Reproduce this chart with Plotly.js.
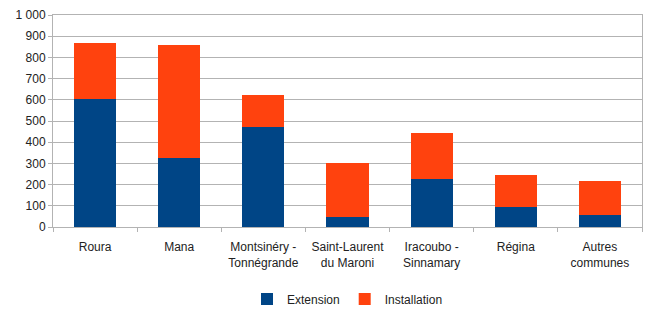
<!DOCTYPE html>
<html><head><meta charset="utf-8">
<script src="https://cdn.plot.ly/plotly-3.0.1.min.js"></script>
<style>html,body{margin:0;padding:0;background:#fff}</style>
</head><body>
<div id="chart" style="width:646px;height:310px"></div>
<script>
var categories = ["Roura", "Mana", "Montsinéry -<br>Tonnégrande", "Saint-Laurent<br>du Maroni", "Iracoubo -<br>Sinnamary", "Régina", "Autres<br>communes"];
var extension = [604, 325, 472, 47, 226, 94, 57];
var installation = [264, 533, 151, 255, 217, 151, 160];

var data = [
  {type: "bar", name: "Extension", x: categories, y: extension, marker: {color: "#004586"}},
  {type: "bar", name: "Installation", x: categories, y: installation, marker: {color: "#ff420e"}}
];
var layout = {
  width: 646, height: 310,
  margin: {l: 53, r: 4, t: 15, b: 83, autoexpand: false},
  barmode: "stack", bargap: 0.5,
  separators: ", ",
  font: {family: "Liberation Sans, Arial, sans-serif", size: 12, color: "#222"},
  paper_bgcolor: "#fff", plot_bgcolor: "#fff",
  showlegend: true,
  legend: {orientation: "h", traceorder: "normal", x: 0.5, xanchor: "center", y: -0.34, yanchor: "middle",
           font: {size: 12}, itemwidth: 30, tracegroupgap: 0},
  xaxis: {type: "category", tickson: "boundaries", ticks: "outside", ticklen: 4, tickcolor: "#b3b3b3",
          showline: true, linecolor: "#b3b3b3", mirror: true, showgrid: false, tickfont: {size: 12},
          automargin: false, ticklabelstandoff: 9},
  yaxis: {range: [0, 1000], dtick: 100, tickformat: ",d", ticks: "outside", ticklen: 4, tickcolor: "#b3b3b3",
          showline: true, linecolor: "#b3b3b3", mirror: true, gridcolor: "#b3b3b3", zeroline: false,
          tickfont: {size: 12}, automargin: false}
};
Plotly.newPlot("chart", data, layout, {displayModeBar: false, staticPlot: true});
</script>
</body></html>
